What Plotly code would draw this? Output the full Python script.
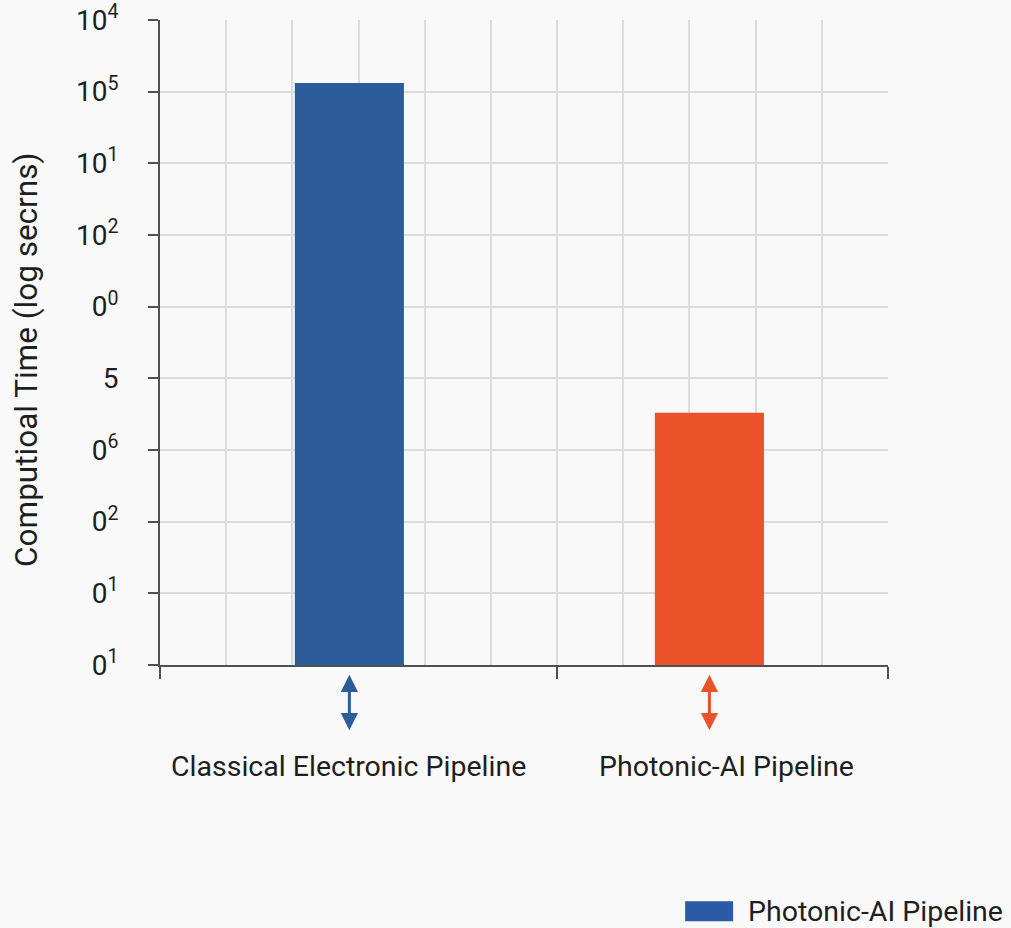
import plotly.graph_objects as go

# ---- data ----
categories = ["Classical Electronic Pipeline", "Photonic-AI Pipeline"]
times_seconds = [1.32e8, 3.3e3]          # bar heights (log axis)
bar_colors = ["#2d5c9b", "#ea5329"]
legend_name = "Photonic-AI Pipeline"
y_tick_vals = [1e0, 1e1, 1e2, 1e3, 1e4, 1e5, 1e6, 1e7, 1e8, 1e9]
y_tick_text = ["0<sup>1</sup>", "0<sup>1</sup>", "0<sup>2</sup>", "0<sup>6</sup>", "5",
               "0<sup>0</sup>", "10<sup>2</sup>", "10<sup>1</sup>", "10<sup>5</sup>", "10<sup>4</sup>"]
y_title = "Computioal Time (log secrns)"
label_xshift = [-1, 17]

FONT = "Roboto"
TXT = "#1e1e1e"
BG = "#f9f9f9"
GRID = "#dcdcdc"
AX = "#505050"

fig = go.Figure()
# empty trace to anchor the grid axis (x / y)
fig.add_trace(go.Scatter(x=[], y=[], xaxis="x", yaxis="y", showlegend=False, hoverinfo="skip"))
fig.add_trace(go.Bar(
    x=categories, y=times_seconds, xaxis="x2", yaxis="y",
    marker=dict(color=bar_colors, line=dict(width=0)),
    width=0.303, name=legend_name, showlegend=True,
))

annotations = []
for i, cat in enumerate(categories):
    annotations.append(dict(
        x=cat, xref="x2", y=-0.101, yref="paper", ax=0, ay=-57,
        text="", showarrow=True, arrowhead=2, arrowside="end+start",
        arrowsize=1.15, arrowwidth=3, arrowcolor=bar_colors[i],
    ))
    annotations.append(dict(
        x=cat, xref="x2", y=-0.158, yref="paper", yanchor="middle",
        text=cat, showarrow=False, xshift=label_xshift[i],
        font=dict(family=FONT, size=28.5, color=TXT),
    ))
# y-axis title
annotations.append(dict(
    x=-0.1827, xref="paper", y=0.473, yref="paper", xanchor="center", yanchor="middle",
    text=y_title, textangle=-90, showarrow=False,
    font=dict(family=FONT, size=31.5, color=TXT),
))

fig.update_layout(
    width=1011, height=928,
    margin=dict(l=160, r=123, t=20, b=263, autoexpand=False),
    paper_bgcolor=BG, plot_bgcolor=BG,
    font=dict(family=FONT, color=TXT),
    xaxis=dict(
        type="linear", range=[0, 11], showgrid=False, automargin=False,
        tickvals=[0, 6, 11], ticks="outside", ticklen=12, tickwidth=2, tickcolor=AX,
        showticklabels=False, showline=True, linecolor=AX, linewidth=2,
        minor=dict(dtick=1, tick0=0, showgrid=True, gridcolor=GRID, gridwidth=1.5, ticks=""),
        zeroline=False, fixedrange=True,
    ),
    xaxis2=dict(
        type="category", overlaying="x", anchor="y", range=[-0.526, 1.496], automargin=False,
        showgrid=False, showticklabels=False, ticks="", showline=False, zeroline=False,
    ),
    yaxis=dict(
        type="log", range=[0, 9], tickvals=y_tick_vals, ticktext=y_tick_text, automargin=False,
        showgrid=True, gridcolor=GRID, gridwidth=1.5,
        ticks="outside", ticklen=10, tickwidth=2, tickcolor=AX, ticklabelstandoff=24,
        showline=True, linecolor=AX, linewidth=2, zeroline=False,
        tickfont=dict(family=FONT, size=28, color=TXT),
    ),
    legend=dict(
        x=1.165, xanchor="right", y=-0.38, yanchor="middle", itemwidth=70,
        font=dict(family=FONT, size=28.5, color=TXT), bgcolor="rgba(0,0,0,0)",
    ),
    annotations=annotations,
)

post_js = """
document.body.style.margin = '0';
document.body.style.background = '%s';
(function(){
  var gd = document.getElementById('{plot_id}');
  gd.querySelectorAll('.legend .traces').forEach(function(item){
    var t = item.querySelector('text.legendtext');
    var p = item.querySelector('.legendpoints path');
    if (!t || !p) return;
    var r = t.getBoundingClientRect();
    var m = p.getScreenCTM();
    var right = r.left - 15 - m.e, left = r.left - 63 - m.e;
    var cy = (r.top + r.bottom) / 2 - m.f;
    p.setAttribute('d', 'M' + right + ',' + (cy + 10) + 'H' + left + 'V' + (cy - 10) + 'H' + right + 'Z');
    p.style.fill = '#2b5aa6';
  });
})();
""" % BG

fig.write_html("out.html", post_script=post_js, config={"displayModeBar": False})
